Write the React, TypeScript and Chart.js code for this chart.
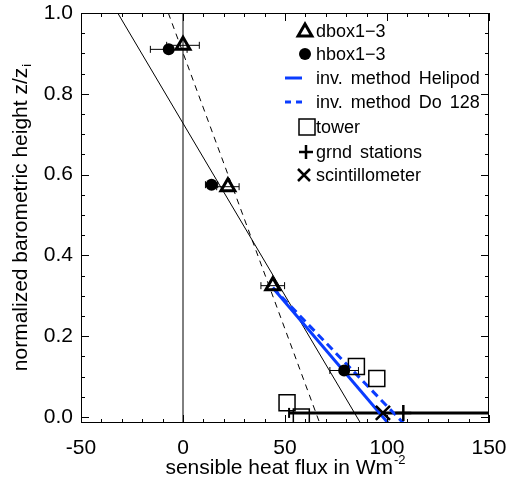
import React, { useEffect, useRef } from 'react';
import { Chart, registerables } from 'chart.js';

Chart.register(...registerables);

// ---------- data ----------
const xTicks = [-50, 0, 50, 100, 150];
const yTicks = [0, 0.2, 0.4, 0.6, 0.8, 1.0];
const xMinorStep = 10;
const yMinorStep = 0.05;
const X_MIN = -50;
const X_MAX = 150;
const Y_MIN = -0.015;
const Y_MAX = 1.0;

const dboxX = [0, 22, 44];
const dboxY = [0.92, 0.57, 0.325];
const dboxErr = [8, 5.5, 5.8];

const hboxX = [-7, 14, 79];
const hboxY = [0.91, 0.575, 0.115];
const hboxErr = [9, 3, 7];

const towerX = [85, 95, 51, 58];
const towerY = [0.125, 0.095, 0.035, 0.0];

const grndX = [108];
const grndY = [0.01];
const grndLo = [52];
const grndHi = [164];

const scintX = [98];
const scintY = [0.01];

const helipodX = [44, 100.5];
const helipodY = [0.32, -0.015];
const do128X = [44, 108];
const do128Y = [0.32, -0.015];

const fitSolidX = [-32, 87];
const fitSolidY = [1.0, -0.015];
const fitDashX = [-7.2, 67];
const fitDashY = [1.0, -0.015];

const zeroLineX = [0, 0];
const zeroLineY = [-0.015, 1.0];

const legendLabels = [
  'dbox1\u22123',
  'hbox1\u22123',
  'inv. method Helipod',
  'inv. method Do 128',
  'tower',
  'grnd stations',
  'scintillometer',
];

const xTitle = 'sensible heat flux in Wm';
const xTitleSup = '-2';
const yTitle = 'normalized barometric height z/z';
const yTitleSub = 'i';

const BLUE = '#0a3cff';
const FONT = '"Liberation Sans", Arial, Helvetica, sans-serif';

const pts = (xs: number[], ys: number[]) => xs.map((x, i) => ({ x, y: ys[i] }));

const overlayPlugin = {
  id: 'overlay',
  beforeDatasetsDraw(chart: any) {
    const { ctx, scales } = chart;
    const xs = scales.x;
    const ys = scales.y;
    const area = chart.chartArea;
    ctx.save();
    ctx.beginPath();
    ctx.rect(area.left, area.top, area.right - area.left, area.bottom - area.top);
    ctx.clip();
    ctx.strokeStyle = '#000';
    const errBar = (x: number, y: number, lo: number, hi: number, lw: number, cap: number) => {
      const px1 = xs.getPixelForValue(lo);
      const px2 = xs.getPixelForValue(hi);
      const py = ys.getPixelForValue(y);
      ctx.lineWidth = lw;
      ctx.beginPath();
      ctx.moveTo(px1, py);
      ctx.lineTo(px2, py);
      ctx.stroke();
      ctx.lineWidth = 1;
      ctx.beginPath();
      ctx.moveTo(px1, py - cap);
      ctx.lineTo(px1, py + cap);
      ctx.moveTo(px2, py - cap);
      ctx.lineTo(px2, py + cap);
      ctx.stroke();
    };
    dboxX.forEach((x, i) => errBar(x, dboxY[i], x - dboxErr[i], x + dboxErr[i], 1, 3.5));
    hboxX.forEach((x, i) => errBar(x, hboxY[i], x - hboxErr[i], x + hboxErr[i], 1, 3.5));
    grndX.forEach((x, i) => {
      const px1 = xs.getPixelForValue(grndLo[i]);
      const px2 = xs.getPixelForValue(grndHi[i]);
      const py = ys.getPixelForValue(grndY[i]);
      ctx.lineWidth = 3;
      ctx.beginPath();
      ctx.moveTo(px1, py);
      ctx.lineTo(px2, py);
      ctx.stroke();
      ctx.lineWidth = 2;
      ctx.beginPath();
      ctx.moveTo(px1, py - 5);
      ctx.lineTo(px1, py + 5);
      ctx.stroke();
    });
    ctx.restore();
  },
  afterDraw(chart: any) {
    const { ctx, scales } = chart;
    const xs = scales.x;
    const ys = scales.y;
    const a = chart.chartArea;
    ctx.save();
    // frame
    ctx.strokeStyle = '#000';
    ctx.lineWidth = 1;
    ctx.strokeRect(a.left + 0.5, a.top + 0.5, a.right - a.left - 1, a.bottom - a.top - 1);
    // ticks
    ctx.beginPath();
    for (let v = X_MIN; v <= X_MAX + 1e-9; v += xMinorStep) {
      const major = xTicks.some((t) => Math.abs(t - v) < 1e-6);
      const len = major ? 8 : 4;
      const px = Math.round(xs.getPixelForValue(v)) + 0.5;
      ctx.moveTo(px, a.bottom);
      ctx.lineTo(px, a.bottom - len);
      ctx.moveTo(px, a.top);
      ctx.lineTo(px, a.top + len);
    }
    for (let v = 0; v <= Y_MAX + 1e-9; v += yMinorStep) {
      const major = yTicks.some((t) => Math.abs(t - v) < 1e-6);
      const len = major ? 8 : 4;
      const py = Math.round(ys.getPixelForValue(v)) + 0.5;
      ctx.moveTo(a.left, py);
      ctx.lineTo(a.left + len, py);
      ctx.moveTo(a.right, py);
      ctx.lineTo(a.right - len, py);
    }
    ctx.stroke();

    // axis titles
    ctx.fillStyle = '#000';
    ctx.textBaseline = 'alphabetic';
    ctx.textAlign = 'left';
    const mainFont = `21px ${FONT}`;
    const smallFont = `13px ${FONT}`;
    // x title
    ctx.font = mainFont;
    const w1 = ctx.measureText(xTitle).width;
    ctx.font = smallFont;
    const w2 = ctx.measureText(xTitleSup).width;
    const cx = (a.left + a.right) / 2;
    let sx = cx - (w1 + w2) / 2;
    const by = 474;
    ctx.font = mainFont;
    ctx.fillText(xTitle, sx, by);
    ctx.font = smallFont;
    ctx.fillText(xTitleSup, sx + w1 + 1, by - 10);
    // y title
    ctx.save();
    ctx.translate(27, (a.top + a.bottom) / 2);
    ctx.rotate(-Math.PI / 2);
    ctx.font = mainFont;
    const w3 = ctx.measureText(yTitle).width;
    ctx.font = smallFont;
    const w4 = ctx.measureText(yTitleSub).width;
    sx = -(w3 + w4) / 2;
    ctx.font = mainFont;
    ctx.fillText(yTitle, sx, 0);
    ctx.font = smallFont;
    ctx.fillText(yTitleSub, sx + w3 + 1, 4);
    ctx.restore();

    // legend
    const textX = 316;
    const rows = [31, 54, 78, 102, 127, 152, 175];
    ctx.font = `18px ${FONT}`;
    ctx.textBaseline = 'middle';
    try { (ctx as any).wordSpacing = '3px'; } catch (e) { /* ignore */ }
    legendLabels.forEach((lab, i) => {
      ctx.fillText(lab, textX, rows[i] + 1);
    });
    try { (ctx as any).wordSpacing = '0px'; } catch (e) { /* ignore */ }
    ctx.strokeStyle = '#000';
    // triangle
    ctx.lineWidth = 3;
    ctx.beginPath();
    const tx = 305, ty = rows[0] + 1;
    ctx.moveTo(tx, ty - 8);
    ctx.lineTo(tx + 6.9, ty + 4);
    ctx.lineTo(tx - 6.9, ty + 4);
    ctx.closePath();
    ctx.stroke();
    // circle
    ctx.beginPath();
    ctx.arc(305, rows[1], 6, 0, Math.PI * 2);
    ctx.fill();
    // lines
    ctx.strokeStyle = BLUE;
    ctx.lineWidth = 3;
    ctx.beginPath();
    ctx.moveTo(285, rows[2]);
    ctx.lineTo(302, rows[2]);
    ctx.stroke();
    ctx.setLineDash([6, 5]);
    ctx.beginPath();
    ctx.moveTo(285, rows[3]);
    ctx.lineTo(302, rows[3]);
    ctx.stroke();
    ctx.setLineDash([]);
    // square
    ctx.strokeStyle = '#000';
    ctx.lineWidth = 1.5;
    ctx.strokeRect(299, rows[4] - 8, 16, 16);
    // plus
    ctx.lineWidth = 2.5;
    ctx.beginPath();
    ctx.moveTo(306, rows[5] - 7);
    ctx.lineTo(306, rows[5] + 7);
    ctx.moveTo(299, rows[5]);
    ctx.lineTo(313, rows[5]);
    ctx.stroke();
    // X
    ctx.beginPath();
    ctx.moveTo(298, rows[6] - 6);
    ctx.lineTo(310, rows[6] + 6);
    ctx.moveTo(310, rows[6] - 6);
    ctx.lineTo(298, rows[6] + 6);
    ctx.stroke();
    ctx.restore();
  },
};

export default function App() {
  const ref = useRef<HTMLCanvasElement | null>(null);
  useEffect(() => {
    if (!ref.current) return;
    const lineDs = (xs: number[], ys: number[], color: string, width: number, dash: number[]) => ({
      type: 'line' as const,
      data: pts(xs, ys),
      borderColor: color,
      borderWidth: width,
      borderDash: dash,
      pointRadius: 0,
      fill: false,
      showLine: true,
    });
    const chart = new Chart(ref.current, {
      type: 'scatter',
      data: {
        datasets: [
          {
            data: pts(dboxX, dboxY),
            pointStyle: 'triangle',
            pointRadius: 8,
            borderWidth: 3,
            borderColor: '#000',
            backgroundColor: 'rgba(0,0,0,0)',
          },
          {
            data: pts(hboxX, hboxY),
            pointStyle: 'circle',
            pointRadius: 6,
            borderWidth: 0,
            borderColor: '#000',
            backgroundColor: '#000',
          },
          {
            data: pts(towerX, towerY),
            pointStyle: 'rect',
            pointRadius: 11.3,
            borderWidth: 1.5,
            borderColor: '#000',
            backgroundColor: 'rgba(0,0,0,0)',
          },
          {
            data: pts(grndX, grndY),
            pointStyle: 'cross',
            pointRadius: 8,
            borderWidth: 2.5,
            borderColor: '#000',
          },
          {
            data: pts(scintX, scintY),
            pointStyle: 'crossRot',
            pointRadius: 10,
            borderWidth: 2.5,
            borderColor: '#000',
          },
          lineDs(helipodX, helipodY, BLUE, 3, []),
          lineDs(do128X, do128Y, BLUE, 3, [8, 5]),
          lineDs(fitSolidX, fitSolidY, '#000', 1, []),
          lineDs(fitDashX, fitDashY, '#000', 1, [6, 5]),
          lineDs(zeroLineX, zeroLineY, '#000', 1, []),
        ] as any,
      },
      options: {
        animation: false,
        responsive: false,
        devicePixelRatio: 1,
        events: [],
        layout: { padding: { top: 13, right: 20, left: 0, bottom: 0 } },
        plugins: { legend: { display: false }, tooltip: { enabled: false } },
        scales: {
          x: {
            type: 'linear',
            min: X_MIN,
            max: X_MAX,
            grid: { display: false, drawTicks: false },
            border: { display: false },
            afterBuildTicks: (s: any) => {
              s.ticks = xTicks.map((v) => ({ value: v }));
            },
            afterFit: (s: any) => {
              s.height = 56;
              s.paddingLeft = 0;
              s.paddingRight = 0;
            },
            ticks: {
              color: '#000',
              font: { family: FONT, size: 21 },
              padding: 13,
              maxRotation: 0,
              autoSkip: false,
              callback: (v: any) => String(v),
            },
          },
          y: {
            type: 'linear',
            min: Y_MIN,
            max: Y_MAX,
            grid: { display: false, drawTicks: false },
            border: { display: false },
            afterBuildTicks: (s: any) => {
              s.ticks = yTicks.map((v) => ({ value: v }));
            },
            afterFit: (s: any) => {
              s.width = 81;
              s.paddingTop = 0;
              s.paddingBottom = 0;
            },
            ticks: {
              color: '#000',
              font: { family: FONT, size: 21 },
              padding: 8,
              autoSkip: false,
              callback: (v: any) => Number(v).toFixed(1),
            },
          },
        },
      },
      plugins: [overlayPlugin],
    });
    return () => chart.destroy();
  }, []);
  return (
    <div style={{ position: 'absolute', left: 0, top: 0, width: 509, height: 479 }}>
      <canvas ref={ref} width={509} height={479} style={{ display: 'block' }} />
    </div>
  );
}
